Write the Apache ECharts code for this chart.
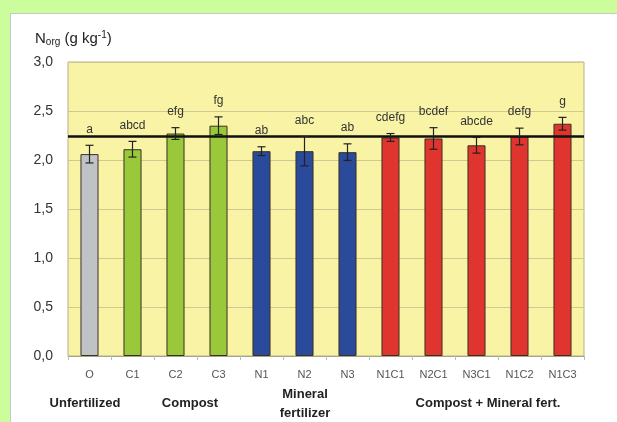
<!DOCTYPE html>
<html lang="en">
<head>
    <meta charset="UTF-8">
    <title>Norg</title>
    <style>
        html, body { margin: 0; padding: 0; background: #ccfd9c; overflow: hidden; }
        #main {
            position: absolute;
            left: 10px;
            top: 13px;
            width: 607px;
            height: 409px;
            background: #fff;
            border-left: 1px solid #c8c8c8;
            border-top: 1px solid #c8c8c8;
        }
    </style>
    <script src="https://cdn.jsdelivr.net/npm/echarts@6/dist/echarts.min.js"></script>
</head>
<body>
    <div id="main"></div>
    <script>
        var categories = ['O', 'C1', 'C2', 'C3', 'N1', 'N2', 'N3', 'N1C1', 'N2C1', 'N3C1', 'N1C2', 'N1C3'];
        var means = [2.06, 2.11, 2.27, 2.35, 2.09, 2.09, 2.08, 2.23, 2.22, 2.15, 2.24, 2.37];
        var errors = [0.09, 0.08, 0.06, 0.09, 0.045, 0.15, 0.085, 0.04, 0.11, 0.08, 0.085, 0.065];
        var letters = ['a', 'abcd', 'efg', 'fg', 'ab', 'abc', 'ab', 'cdefg', 'bcdef', 'abcde', 'defg', 'g'];
        var groupOf = ['unf', 'comp', 'comp', 'comp', 'min', 'min', 'min', 'mix', 'mix', 'mix', 'mix', 'mix'];
        var refLine = 2.24;

        var groupColors = { unf: '#c0c3c6', comp: '#99c93a', min: '#2a4a9c', mix: '#e0352e' };

        var myChart = echarts.init(document.getElementById('main'));

        var barData = means.map(function (v, i) {
            return { value: v, itemStyle: { color: groupColors[groupOf[i]] } };
        });
        var errData = means.map(function (v, i) {
            return [i, v - errors[i], v + errors[i], letters[i]];
        });

        var groupFont = 'bold 13px "Liberation Sans"';

        var option = {
            animation: false,
            title: {
                text: '{n|N}{s|org}{n| (g kg}{p|-1}{n|)}',
                left: 19,
                top: 11,
                textStyle: {
                    fontWeight: 'normal',
                    rich: {
                        n: { fontSize: 15, color: '#222', fontFamily: 'Liberation Sans' },
                        s: { fontSize: 10, color: '#222', fontFamily: 'Liberation Sans', verticalAlign: 'bottom', padding: [7, 0, 0, 0] },
                        p: { fontSize: 10, color: '#222', fontFamily: 'Liberation Sans', verticalAlign: 'top', padding: [0, 0, 7, 0] }
                    }
                }
            },
            grid: {
                left: 57,
                top: 48,
                right: 34,
                bottom: 67,
                show: true,
                backgroundColor: '#f9f3a6',
                borderColor: '#b5b08a',
                borderWidth: 1
            },
            xAxis: {
                type: 'category',
                data: categories,
                axisLine: { lineStyle: { color: '#a8a48a' } },
                axisTick: { show: true, length: 4, lineStyle: { color: '#bbb' } },
                axisLabel: { color: '#555', fontSize: 11, fontFamily: 'Liberation Sans', margin: 13 }
            },
            yAxis: {
                type: 'value',
                min: 0,
                max: 3,
                interval: 0.5,
                axisLine: { show: false },
                axisTick: { show: false },
                splitLine: { lineStyle: { color: '#cfc98f', width: 1 } },
                axisLabel: {
                    color: '#333',
                    fontSize: 14,
                    fontFamily: 'Liberation Sans',
                    margin: 15,
                    formatter: function (v) { return v.toFixed(1).replace('.', ','); }
                }
            },
            series: [{
                type: 'bar',
                data: barData,
                barWidth: '42%',
                itemStyle: { borderColor: '#3a3020', borderWidth: 1 },
                markLine: {
                    silent: true,
                    symbol: 'none',
                    label: { show: false },
                    lineStyle: { color: '#111', width: 2.5, type: 'solid' },
                    data: [{ yAxis: refLine }]
                },
                z: 2
            }, {
                type: 'custom',
                data: errData,
                z: 5,
                renderItem: function (params, api) {
                    var x = api.coord([api.value(0), 0])[0];
                    var lo = api.coord([api.value(0), api.value(1)])[1];
                    var hi = api.coord([api.value(0), api.value(2)])[1];
                    var cap = 4;
                    var st = { stroke: '#222', lineWidth: 1.2 };
                    return {
                        type: 'group',
                        children: [
                            { type: 'line', shape: { x1: x, y1: lo, x2: x, y2: hi }, style: st },
                            { type: 'line', shape: { x1: x - cap, y1: lo, x2: x + cap, y2: lo }, style: st },
                            { type: 'line', shape: { x1: x - cap, y1: hi, x2: x + cap, y2: hi }, style: st },
                            {
                                type: 'text',
                                style: {
                                    text: letters[params.dataIndex],
                                    x: x,
                                    y: hi - 10,
                                    textAlign: 'center',
                                    textVerticalAlign: 'bottom',
                                    fill: '#333',
                                    font: '12px "Liberation Sans"'
                                }
                            }
                        ]
                    };
                }
            }],
            graphic: [
                { type: 'text', x: 74, y: 389, style: { text: 'Unfertilized', fill: '#222', font: groupFont, textAlign: 'center', textVerticalAlign: 'middle' } },
                { type: 'text', x: 179, y: 389, style: { text: 'Compost', fill: '#222', font: groupFont, textAlign: 'center', textVerticalAlign: 'middle' } },
                { type: 'text', x: 294, y: 390, style: { text: 'Mineral\nfertilizer', fill: '#222', font: groupFont, textAlign: 'center', textVerticalAlign: 'middle', lineHeight: 19 } },
                { type: 'text', x: 477, y: 389, style: { text: 'Compost + Mineral fert.', fill: '#222', font: groupFont, textAlign: 'center', textVerticalAlign: 'middle' } }
            ]
        };
        myChart.setOption(option);
    </script>
</body>
</html>
